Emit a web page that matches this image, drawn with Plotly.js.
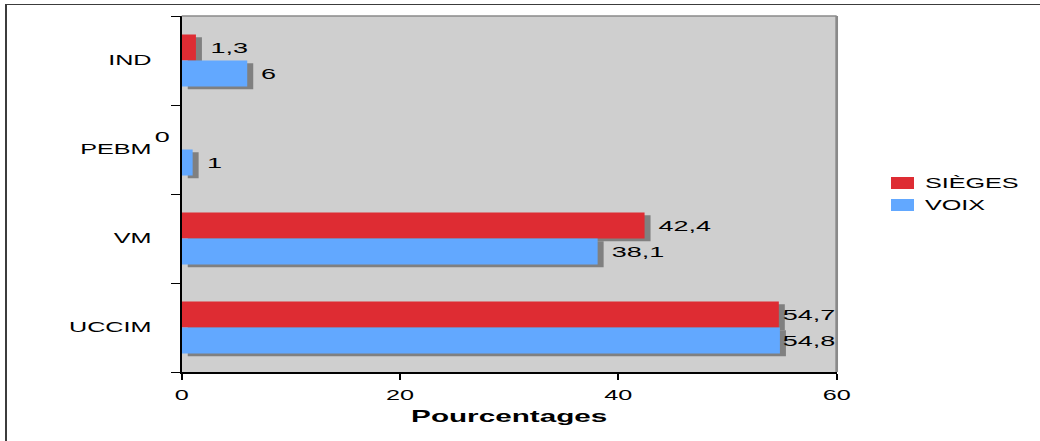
<!DOCTYPE html>
<html>
<head>
<meta charset="utf-8">
<script src="https://cdn.plot.ly/plotly-3.0.1.min.js"></script>
<style>
  html, body { margin: 0; padding: 0; background: #ffffff; overflow: hidden; }
  #stage { position: relative; width: 1040px; height: 441px; overflow: hidden; }
  #chart { position: absolute; left: 0; top: 0; transform-origin: 0 0; }
  #frame {
    position: absolute; left: 5px; top: 4px; width: 2000px; height: 2000px;
    border-top: 1px solid #3c3c3c; border-left: 2px solid #3c3c3c;
    pointer-events: none;
  }
</style>
</head>
<body>
<div id="stage">
  <div id="chart"></div>
  <div id="frame"></div>
</div>
<script>
// Parties (bottom to top) and their shares in percent
const categories = ['UCCIM', 'VM', 'PEBM', 'IND'];
const sieges = [54.7, 42.4, 0, 1.3];
const voix = [54.8, 38.1, 1, 6];
const seriesNames = ['SIÈGES', 'VOIX'];
const seriesColors = ['#de2c33', '#62a8ff'];
const xTicks = [0, 20, 40, 60];
const xTitle = 'Pourcentages';

// Drawing geometry: the chart is laid out narrow, then stretched horizontally
const W = 578, H = 441;
const SCALE = 1040 / W;
const M = { l: 101, r: 113, t: 16, b: 69 };
const plotW = W - M.l - M.r;
const plotH = H - M.t - M.b;
const X_MAX = 60;
const BAR_H = 26 / 89;          // bar thickness in category units
const SHADOW_DX = 0.55;         // drop shadow shift along value axis
const SHADOW_DY = 0.032;        // drop shadow shift along category axis
const FONT = 'Liberation Sans, Arial, sans-serif';

document.getElementById('chart').style.transform = 'scaleX(' + SCALE + ')';

function fmt(v) { return String(v).replace('.', ','); }

const measureCtx = document.createElement('canvas').getContext('2d');
function textUnits(str, size) {
  measureCtx.font = size + 'px "Liberation Sans"';
  return measureCtx.measureText(str).width * X_MAX / plotW;
}

function barTrace(vals, color, offset, base) {
  const t = {
    type: 'bar', orientation: 'h', y: categories, x: vals,
    offset: offset, width: BAR_H,
    marker: { color: color, line: { width: 0 } },
    hoverinfo: 'skip', showlegend: false, textposition: 'none'
  };
  if (base !== undefined) t.base = base;
  return t;
}

const traces = [
  barTrace(sieges, '#808080', -SHADOW_DY, SHADOW_DX),
  barTrace(voix, '#808080', -BAR_H - SHADOW_DY, SHADOW_DX),
  barTrace(sieges, seriesColors[0], 0),
  barTrace(voix, seriesColors[1], -BAR_H)
];

// Value labels beside each bar, kept inside the plot area
const annotations = [];
function addLabels(vals, yOff) {
  vals.forEach(function (v, i) {
    const txt = fmt(v);
    const a = {
      xref: 'x', yref: 'y', y: i + yOff, text: txt, showarrow: false,
      font: { family: FONT, size: 15, color: '#000000' }, yanchor: 'middle'
    };
    if (v === 0) {
      a.x = 0; a.xanchor = 'right'; a.xshift = -5.5;
    } else if (v + 1.0 + textUnits(txt, 15) > X_MAX) {
      a.x = X_MAX; a.xanchor = 'right'; a.xshift = 1;
    } else {
      a.x = v + 1.0; a.xanchor = 'left';
    }
    annotations.push(a);
  });
}
addLabels(sieges, BAR_H / 2);
addLabels(voix, -BAR_H / 2);

// Legend drawn as swatches with series names
function px2paperX(px) { return (px - M.l) / plotW; }
function px2paperY(py) { return (H - M.b - py) / plotH; }
const legendLeft = 891 / SCALE, swatchW = 23 / SCALE, swatchH = 12;
const legendTops = [177, 199];
const shapes = [
  { type: 'line', xref: 'paper', yref: 'paper', x0: 0, x1: 1, y0: 1, y1: 1,
    line: { color: '#8a8a8a', width: 1.5 } },
  { type: 'line', xref: 'paper', yref: 'paper', x0: 1, x1: 1, y0: 0, y1: 1,
    line: { color: '#8a8a8a', width: 1.5 } }
];
seriesNames.forEach(function (name, k) {
  shapes.push({
    type: 'rect', xref: 'paper', yref: 'paper',
    x0: px2paperX(legendLeft), x1: px2paperX(legendLeft + swatchW),
    y0: px2paperY(legendTops[k] + swatchH), y1: px2paperY(legendTops[k]),
    fillcolor: seriesColors[k], line: { width: 0 }
  });
  annotations.push({
    xref: 'paper', yref: 'paper', x: px2paperX(921 / SCALE), xanchor: 'left',
    y: px2paperY(legendTops[k] + swatchH / 2), yanchor: 'middle',
    text: name, showarrow: false,
    font: { family: FONT, size: 14, color: '#000000' }
  });
});

const layout = {
  width: W, height: H,
  margin: M,
  paper_bgcolor: '#ffffff',
  plot_bgcolor: '#cfcfcf',
  barmode: 'overlay',
  showlegend: false,
  font: { family: FONT, size: 14, color: '#000000' },
  xaxis: {
    range: [0, X_MAX], tickvals: xTicks, ticktext: xTicks.map(String),
    ticks: 'outside', ticklen: 6, tickwidth: 1, tickcolor: '#000000',
    showline: true, linecolor: '#000000', linewidth: 1.5,
    showgrid: false, zeroline: false, fixedrange: true,
    ticklabelstandoff: 4,
    tickfont: { family: FONT, size: 14, color: '#000000' },
    title: { text: xTitle, standoff: 8,
             font: { family: FONT, size: 16.5, color: '#000000', weight: 'bold' } }
  },
  yaxis: {
    type: 'category', categoryorder: 'array', categoryarray: categories,
    range: [-0.5, categories.length - 0.5],
    ticks: 'outside', tickson: 'boundaries', ticklen: 5, tickwidth: 1,
    tickcolor: '#000000',
    showline: true, linecolor: '#000000', linewidth: 1,
    showgrid: false, zeroline: false, fixedrange: true,
    ticklabelstandoff: 13,
    tickfont: { family: FONT, size: 14, color: '#000000' }
  },
  shapes: shapes,
  annotations: annotations
};

Plotly.newPlot('chart', traces, layout, { staticPlot: true, displayModeBar: false });
</script>
</body>
</html>
